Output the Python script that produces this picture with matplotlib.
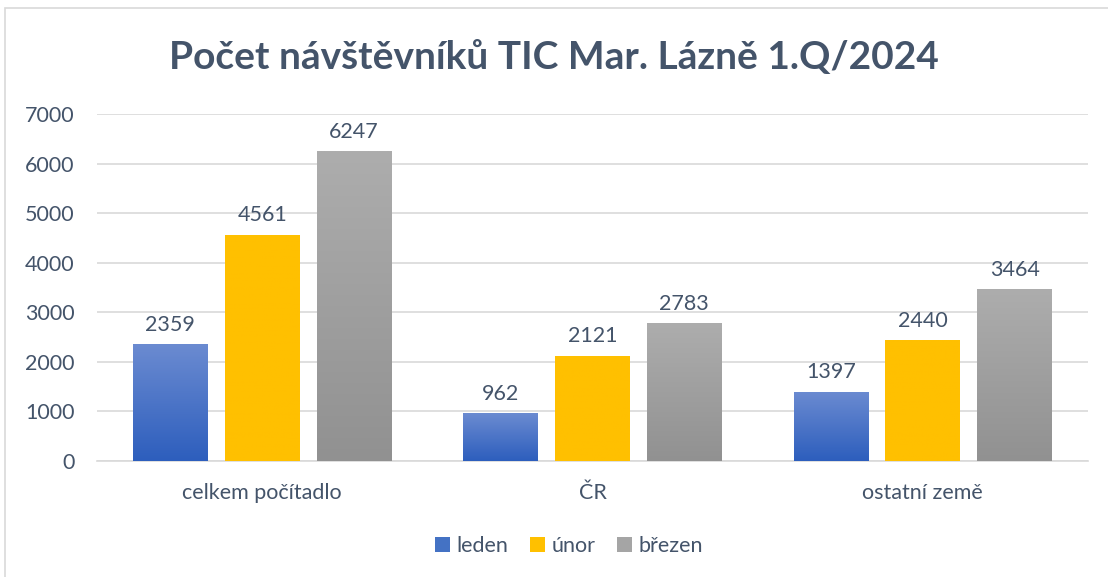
import numpy as np
import matplotlib
matplotlib.use("Agg")
import matplotlib.pyplot as plt
from matplotlib.patches import Rectangle
from matplotlib.colors import LinearSegmentedColormap

# Daten
kategorien = ["celkem počítadlo", "ČR", "ostatní země"]
mesice = ["leden", "únor", "březen"]
leden = [2359, 962, 1397]
unor = [4561, 2121, 2440]
brezen = [6247, 2783, 3464]
yticks = [0, 1000, 2000, 3000, 4000, 5000, 6000, 7000]

plt.rcParams["font.family"] = ["Lato", "DejaVu Sans"]
text_farbe = "#44546a"
grid_farbe = "#d9d9d9"

fig = plt.figure(figsize=(11.08, 5.77), dpi=100)
ax = fig.add_axes([97 / 1108, 1 - 461 / 577, 991 / 1108, (461 - 114) / 577])

# Rahmen um das Diagramm
fig.patches.append(Rectangle((5 / 1108, -0.05), 1.2, 1 - 8 / 577 + 0.05,
                             transform=fig.transFigure, fill=False,
                             edgecolor=grid_farbe, linewidth=1.2))

x = np.arange(len(kategorien))
breite = 0.227
abstand = 0.278

# Farbverläufe (unten -> oben)
verlaeufe = [
    LinearSegmentedColormap.from_list("blau", ["#2d5ebd", "#6b8bd1"]),
    LinearSegmentedColormap.from_list("gelb", ["#ffc000", "#ffc000"]),
    LinearSegmentedColormap.from_list("grau", ["#919191", "#adadad"]),
]
legend_farben = ["#4472c4", "#ffc000", "#a5a5a5"]

serien = [leden, unor, brezen]
for i, (werte, cmap) in enumerate(zip(serien, verlaeufe)):
    pos = x + (i - 1) * abstand
    bars = ax.bar(pos, werte, width=breite, color="none", zorder=3)
    for b, w in zip(bars, werte):
        x0, x1 = b.get_x(), b.get_x() + b.get_width()
        grad = np.linspace(0, 1, 256).reshape(-1, 1)
        im = ax.imshow(grad, cmap=cmap, aspect="auto", origin="lower",
                       extent=[x0, x1, 0, w], zorder=3)
        im.set_clip_path(b)
        ax.text(b.get_x() + b.get_width() / 2, w + 190, str(w),
                ha="center", va="bottom", fontsize=15.5, color=text_farbe)
    ax.bar([np.nan], [0], color=legend_farben[i], label=mesice[i])

ax.set_xlim(-0.5, 2.5)
ax.set_ylim(0, 7000)
ax.set_yticks(yticks)
ax.set_yticklabels([str(t) for t in yticks], fontsize=15.5, color=text_farbe)
ax.set_xticks(x)
ax.set_xticklabels(kategorien, fontsize=15.5, color=text_farbe)
ax.tick_params(axis="y", length=0, pad=16)
ax.tick_params(axis="x", length=0, pad=16)
ax.grid(axis="y", color=grid_farbe, linewidth=1.2, zorder=0)
ax.set_axisbelow(True)
for s in ["top", "right", "left"]:
    ax.spines[s].set_visible(False)
ax.spines["bottom"].set_color(grid_farbe)
ax.spines["bottom"].set_linewidth(1.2)

fig.text(0.5, 1 - 57 / 577, "Počet návštěvníků TIC Mar. Lázně 1.Q/2024",
         ha="center", va="center", fontsize=28, fontweight="bold", color=text_farbe)

fig.legend(loc="center", bbox_to_anchor=(569 / 1108, 1 - 546 / 577), ncol=3,
           frameon=False, fontsize=15.5, handlelength=0.7, handleheight=0.7,
           handletextpad=0.3, columnspacing=1.0, labelcolor=text_farbe)

fig.savefig("out.png", dpi=100)
